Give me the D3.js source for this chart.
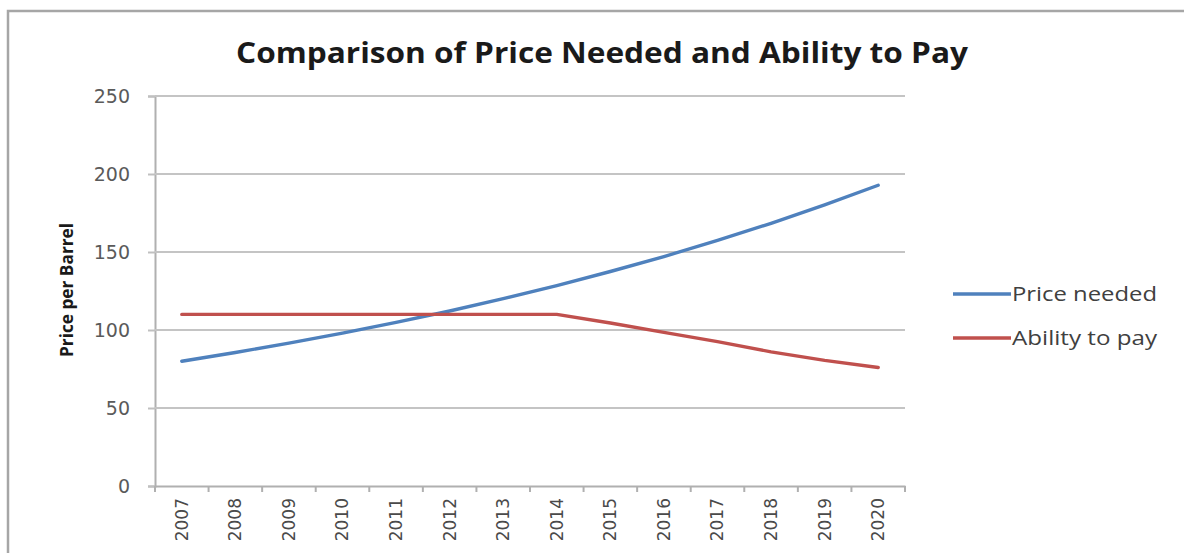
<!DOCTYPE html>
<html>
<head>
<meta charset="utf-8">
<script src="https://cdn.jsdelivr.net/npm/d3@7/dist/d3.min.js"></script>
<style>
  html, body { margin: 0; padding: 0; background: #fff; }
  svg { display: block; }
</style>
</head>
<body>
<svg id="chart" width="1184" height="553"></svg>
<script>
// ---- data ----
const years = ["2007","2008","2009","2010","2011","2012","2013","2014","2015","2016","2017","2018","2019","2020"];
const priceNeeded = [80, 85.6, 91.6, 98, 104.9, 112.2, 120.1, 128.5, 137.5, 147.1, 157.4, 168.4, 180.2, 192.8];
const abilityToPay = [110, 110, 110, 110, 110, 110, 110, 110, 104.5, 98.5, 92.5, 86, 80.5, 76];
const yTicks = [0, 50, 100, 150, 200, 250];
const seriesNames = ["Price needed", "Ability to pay"];
const seriesColors = ["#4F81BD", "#C0504D"];
const titleText = "Comparison of Price Needed and Ability to Pay";
const yAxisTitle = "Price per Barrel";

// ---- layout ----
const svg = d3.select("#chart");
const W = 1184, H = 553;
const plot = { left: 155, right: 905, top: 96, bottom: 486 };

// outer frame (top and left edges visible)
svg.append("path")
  .attr("d", `M8,${H} L8,11 L${W},11`)
  .attr("fill", "none").attr("stroke", "#a6a6a6").attr("stroke-width", 2.5);

const x = d3.scaleBand().domain(years).range([plot.left, plot.right]).padding(0);
const y = d3.scaleLinear().domain([0, 250]).range([plot.bottom, plot.top]);

// gridlines + y axis
const yAxis = d3.axisLeft(y).tickValues(yTicks).tickSize(7).tickPadding(18);
const gy = svg.append("g").attr("transform", `translate(${plot.left},0)`).call(yAxis);
gy.select(".domain").attr("stroke", "#b0b0b0").attr("stroke-width", 2);
gy.selectAll(".tick line").attr("stroke", "#c0c0c0").attr("stroke-width", 2);
gy.selectAll(".tick text")
  .attr("fill", "#5a5a5a")
  .style("font-family", "'DejaVu Sans', sans-serif")
  .style("font-size", "19px");

svg.append("g").selectAll("line.grid")
  .data(yTicks.filter(d => d > 0))
  .join("line")
  .attr("class", "grid")
  .attr("x1", plot.left).attr("x2", plot.right)
  .attr("y1", d => y(d)).attr("y2", d => y(d))
  .attr("stroke", "#c4c4c4").attr("stroke-width", 2);

// x axis
const gx = svg.append("g").attr("transform", `translate(0,${plot.bottom})`)
  .call(d3.axisBottom(x).tickSize(0).tickSizeOuter(0));
gx.select(".domain").attr("stroke", "#b0b0b0").attr("stroke-width", 2);
gx.selectAll(".tick text")
  .attr("fill", "#4a4a4a")
  .style("font-family", "'DejaVu Sans', sans-serif")
  .style("font-size", "17px")
  .attr("transform", "rotate(-90)")
  .attr("text-anchor", "end")
  .attr("dy", "0.35em")
  .attr("x", -12)
  .attr("y", 0);
// boundary tick marks
const bounds = years.map(d => x(d)).concat([x(years[years.length - 1]) + x.bandwidth()]);
svg.append("g").selectAll("line")
  .data(bounds)
  .join("line")
  .attr("x1", d => d).attr("x2", d => d)
  .attr("y1", plot.bottom).attr("y2", plot.bottom + 6)
  .attr("stroke", "#b0b0b0").attr("stroke-width", 2);

// lines
const series = [priceNeeded, abilityToPay];
const line = d3.line()
  .x((d, i) => x(years[i]) + x.bandwidth() / 2)
  .y(d => y(d));
series.forEach((s, k) => {
  svg.append("path")
    .datum(s)
    .attr("d", line)
    .attr("fill", "none")
    .attr("stroke", seriesColors[k])
    .attr("stroke-width", 3.4)
    .attr("stroke-linejoin", "round")
    .attr("stroke-linecap", "round");
});

// legend
const legendY = [294, 338];
seriesNames.forEach((name, k) => {
  svg.append("line")
    .attr("x1", 953).attr("x2", 1011)
    .attr("y1", legendY[k]).attr("y2", legendY[k])
    .attr("stroke", seriesColors[k]).attr("stroke-width", 3.4);
  svg.append("text")
    .attr("x", 1012).attr("y", legendY[k])
    .attr("dy", "0.36em")
    .attr("fill", "#404040")
    .style("font-family", "'Open Sans', sans-serif")
    .style("font-size", "20px")
    .attr("textLength", 145)
    .attr("lengthAdjust", "spacingAndGlyphs")
    .text(name);
});

// title
svg.append("text")
  .attr("x", 602).attr("y", 63)
  .attr("text-anchor", "middle")
  .attr("fill", "#1a1a1a")
  .style("font-family", "'Open Sans', sans-serif")
  .style("font-weight", "bold")
  .style("font-size", "28px")
  .attr("textLength", 732)
  .attr("lengthAdjust", "spacingAndGlyphs")
  .text(titleText);

// y axis title
svg.append("text")
  .attr("transform", "translate(73,290) rotate(-90)")
  .attr("text-anchor", "middle")
  .attr("fill", "#1a1a1a")
  .style("font-family", "'Open Sans', sans-serif")
  .style("font-weight", "bold")
  .style("font-size", "18px")
  .attr("textLength", 134)
  .attr("lengthAdjust", "spacingAndGlyphs")
  .text(yAxisTitle);
</script>
</body>
</html>
